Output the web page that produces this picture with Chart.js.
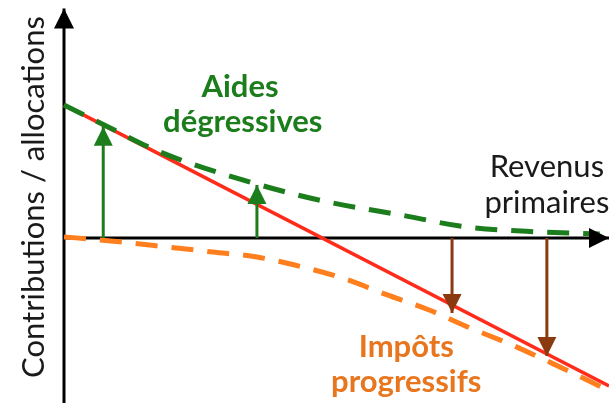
<!DOCTYPE html>
<html>
<head>
<meta charset="utf-8">
<script src="https://cdn.jsdelivr.net/npm/chart.js@4.4.0/dist/chart.umd.min.js"></script>
<style>
    html, body { margin: 0; padding: 0; background: #fff; }
    #wrap { width: 609px; height: 403px; }
</style>
</head>
<body>
<div id="wrap"><canvas id="schema" width="609" height="403"></canvas></div>
<script>
// revenus primaires (axe horizontal, unités arbitraires)
const revenus = [0, 0.72, 1.76, 3.54, 4.84, 6.17, 7.39, 8.73, 9.83];
// aides dégressives (courbe verte)
const aides = [4.84, 4.13, 3.13, 1.96, 1.31, 0.84, 0.40, 0.22, 0.15];

// impôts progressifs (courbe orange)
const revenusImpots = [0, 0.66, 1.91, 2.73, 3.54, 4.37, 5.16, 5.93, 6.70, 7.45, 8.22, 8.95, 9.71, 10];
const impots = [0.04, -0.07, -0.33, -0.51, -0.69, -1.05, -1.49, -2.07, -2.62, -3.27, -3.89, -4.55, -5.27, -5.56];

// droite du revenu disponible sans redistribution
const droiteX = [0, 10];
const droiteY = [4.84, -5.38];

// flèches : position sur l'axe et hauteur atteinte
const flechesAidesX = [0.72, 3.54];
const flechesAidesY = [4.05, 1.93];
const flechesImpotsX = [7.12, 8.86];
const flechesImpotsY = [-2.73, -4.29];

const textes = ['Contributions / allocations', 'Aides', 'dégressives', 'Revenus', 'primaires', 'Impôts', 'progressifs'];

const VERT = '#1b7d1b';
const ORANGE = '#ff7f1e';
const BRUN = '#8b3a10';
const ROUGE = '#ff2b1b';

function points(xs, ys) {
    return xs.map((x, i) => ({ x: x, y: ys[i] }));
}

const datasets = [];

// axes
datasets.push({ data: points([0, 0], [-6.2, 8.35]), borderColor: '#000', borderWidth: 3, arrow: 20, order: 5 });
datasets.push({ data: points([0, 10], [0, 0]), borderColor: '#000', borderWidth: 3, arrow: 20, order: 4 });

datasets.push({ data: points(droiteX, droiteY), borderColor: ROUGE, borderWidth: 3.5, order: 3 });
datasets.push({
    data: points(revenus, aides), borderColor: VERT, borderWidth: 5,
    borderDash: [22, 14], cubicInterpolationMode: 'monotone', order: 2
});
datasets.push({
    data: points(revenusImpots, impots), borderColor: ORANGE, borderWidth: 5,
    borderDash: [22, 14], cubicInterpolationMode: 'monotone', order: 2
});

flechesAidesX.forEach((x, i) => {
    datasets.push({ data: points([x, x], [0, flechesAidesY[i]]), borderColor: VERT, backgroundColor: VERT, borderWidth: 3, arrow: 19, order: 1 });
});
flechesImpotsX.forEach((x, i) => {
    datasets.push({ data: points([x, x], [0, flechesImpotsY[i]]), borderColor: BRUN, backgroundColor: BRUN, borderWidth: 3, arrow: 19, order: 1 });
});

// pointes de flèche au dernier point des séries marquées
const pointesPlugin = {
    id: 'pointes',
    afterDatasetsDraw(chart) {
        const ctx = chart.ctx;
        chart.data.datasets.forEach((ds, i) => {
            if (!ds.arrow) return;
            const pts = chart.getDatasetMeta(i).data;
            const a = pts[pts.length - 2], b = pts[pts.length - 1];
            const ang = Math.atan2(b.y - a.y, b.x - a.x);
            const s = ds.arrow;
            ctx.save();
            ctx.translate(b.x, b.y);
            ctx.rotate(ang);
            ctx.fillStyle = ds.borderColor;
            ctx.beginPath();
            ctx.moveTo(0, 0);
            ctx.lineTo(-s, -s / 2);
            ctx.lineTo(-s, s / 2);
            ctx.closePath();
            ctx.fill();
            ctx.restore();
        });
    }
};

// textes du schéma, placés en coordonnées des échelles
const etiquettes = [
    { t: textes[0], x: -0.55, y: 1.49, rot: true, font: '31px Lato', color: '#1a1a1a' },
    { t: textes[1], x: 3.23, y: 5.13, font: 'bold 31px Lato', color: VERT },
    { t: textes[2], x: 3.28, y: 3.85, font: 'bold 31px Lato', color: VERT },
    { t: textes[3], x: 8.86, y: 2.22, font: '31px Lato', color: '#1a1a1a' },
    { t: textes[4], x: 8.86, y: 0.91, font: '31px Lato', color: '#1a1a1a' },
    { t: textes[5], x: 6.28, y: -4.33, font: 'bold 31px Lato', color: '#e8761e' },
    { t: textes[6], x: 6.28, y: -5.6, font: 'bold 31px Lato', color: '#e8761e' }
];

const textesPlugin = {
    id: 'textes',
    afterDraw(chart) {
        const ctx = chart.ctx;
        const sx = chart.scales.x, sy = chart.scales.y;
        etiquettes.forEach(e => {
            const px = sx.getPixelForValue(e.x), py = sy.getPixelForValue(e.y);
            ctx.save();
            ctx.font = e.font;
            ctx.fillStyle = e.color;
            ctx.textAlign = 'center';
            if (e.rot) {
                ctx.translate(px, py);
                ctx.rotate(-Math.PI / 2);
                ctx.textBaseline = 'middle';
                ctx.fillText(e.t, 0, 0);
            } else {
                ctx.textBaseline = 'alphabetic';
                ctx.fillText(e.t, px, py);
            }
            ctx.restore();
        });
    }
};

new Chart(document.getElementById('schema'), {
    type: 'scatter',
    data: { datasets: datasets },
    options: {
        responsive: false,
        animation: false,
        devicePixelRatio: 1,
        layout: { padding: 0 },
        showLine: true,
        elements: { point: { radius: 0, hoverRadius: 0 } },
        datasets: { scatter: { clip: false } },
        plugins: { legend: { display: false }, tooltip: { enabled: false } },
        scales: {
            x: { type: 'linear', min: -64 / 54.5, max: 10, display: false },
            y: { type: 'linear', min: -6, max: 238 / 27.5, display: false }
        }
    },
    plugins: [pointesPlugin, textesPlugin]
});
</script>
</body>
</html>
